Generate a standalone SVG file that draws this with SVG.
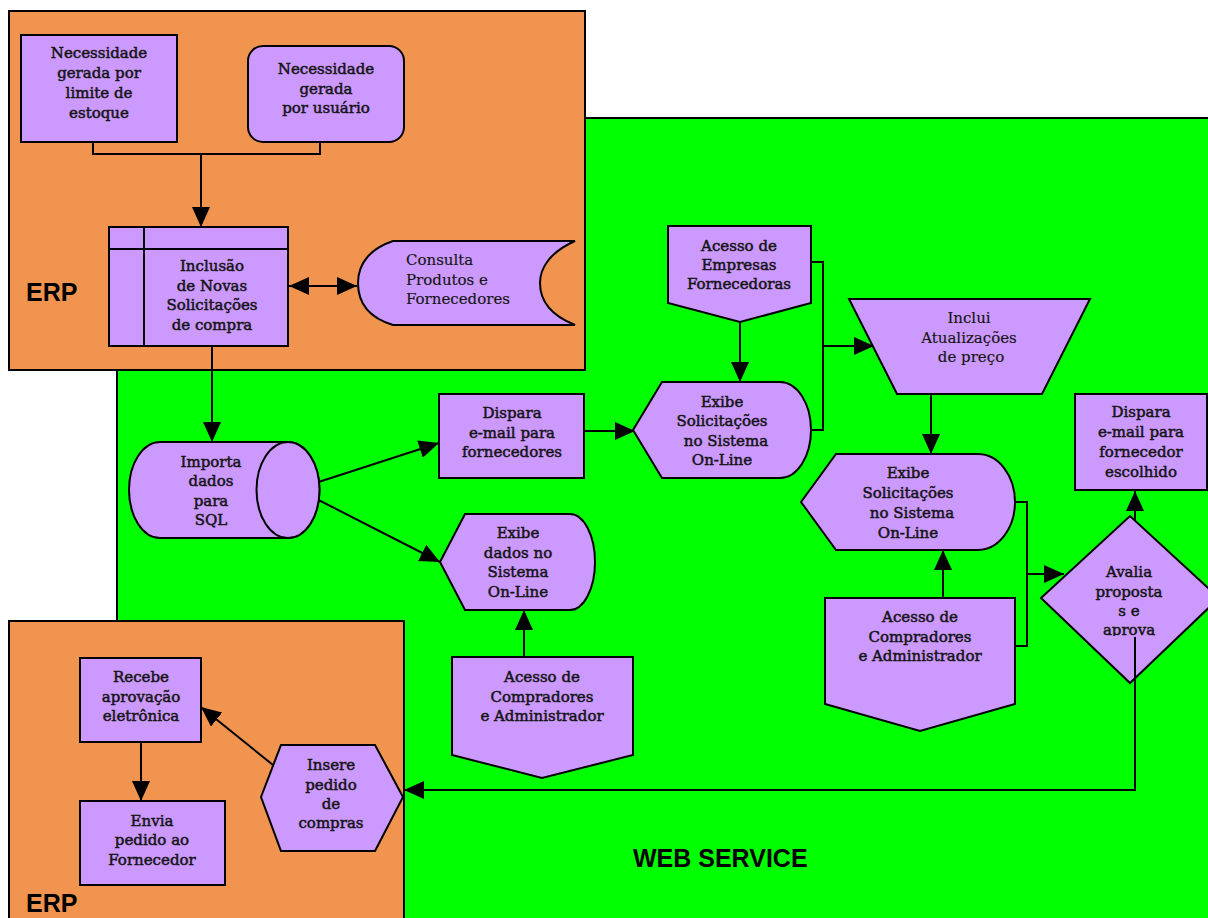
<svg xmlns="http://www.w3.org/2000/svg" width="1208" height="918" viewBox="0 0 1208 918">
  <style>
    .zone-web { fill: #00FF00; stroke: #000; stroke-width: 2; }
    .zone-erp { fill: #F0944F; stroke: #000; stroke-width: 2; }
    .node { fill: #CC99FF; stroke: #000; stroke-width: 2; }
    .t { font-family: "DejaVu Serif", "Liberation Serif", serif; font-size: 15px; text-anchor: middle; fill: #141414; stroke: #141414; stroke-width: 0.5px; }
    .tl { text-anchor: start; stroke-width: 0.15px; }
    .tr { stroke-width: 0.15px; }
    .zone-label { font-family: "Liberation Sans", Arial, sans-serif; font-size: 25px; font-weight: bold; fill: #000; }
    .conn { fill: none; stroke: #000; stroke-width: 2; }
    .arrow { marker-end: url(#head); }
  </style>
  <defs>
    <marker id="head" markerUnits="userSpaceOnUse" markerWidth="20" markerHeight="18" refX="20" refY="9" orient="auto">
      <path d="M0,0 L20,9 L0,18 Z" fill="#000"/>
    </marker>
    <marker id="head2" markerUnits="userSpaceOnUse" markerWidth="20" markerHeight="18" refX="20" refY="9" orient="auto-start-reverse">
      <path d="M0,0 L20,9 L0,18 Z" fill="#000"/>
    </marker>
    <clipPath id="avalia-clip">
      <rect x="1040" y="500" width="180" height="136"/>
    </clipPath>
  </defs>

  <!-- swimlane zones -->
  <g id="zones">
    <rect class="zone-web" x="117" y="118" width="1100" height="810"/>
    <rect class="zone-erp" x="9" y="11" width="576" height="359"/>
    <rect class="zone-erp" x="9" y="621" width="395" height="310"/>
    <text class="zone-label" x="26" y="301">ERP</text>
    <text class="zone-label" x="26" y="912">ERP</text>
    <text class="zone-label" x="633" y="867">WEB SERVICE</text>
  </g>

  <!-- connectors -->
  <g id="connectors">
    <polyline class="conn" points="93,142 93,154 320,154 320,142"/>
    <line class="conn arrow" x1="201" y1="154" x2="201" y2="227"/>
    <line class="conn" x1="289" y1="286" x2="357" y2="286" marker-start="url(#head2)" marker-end="url(#head2)"/>
    <line class="conn arrow" x1="212" y1="346" x2="212" y2="442"/>
    <line class="conn arrow" x1="297" y1="489" x2="439" y2="443"/>
    <line class="conn arrow" x1="297" y1="489" x2="440" y2="562"/>
    <line class="conn arrow" x1="524" y1="657" x2="524" y2="610"/>
    <line class="conn arrow" x1="584" y1="431" x2="635" y2="431"/>
    <line class="conn arrow" x1="740" y1="322" x2="740" y2="382"/>
    <polyline class="conn" points="811,262 823,262 823,430 811,430"/>
    <line class="conn arrow" x1="823" y1="346" x2="874" y2="346"/>
    <line class="conn arrow" x1="931" y1="394" x2="931" y2="454"/>
    <line class="conn arrow" x1="943" y1="598" x2="943" y2="550"/>
    <polyline class="conn" points="1015,502 1027,502 1027,646 1015,646"/>
    <line class="conn arrow" x1="1027" y1="574" x2="1064" y2="574"/>
    <line class="conn arrow" x1="1135" y1="521" x2="1135" y2="491"/>
    <polyline class="conn arrow" points="1135,637 1135,790 404,790"/>
    <line class="conn arrow" x1="273" y1="765" x2="201" y2="707"/>
    <line class="conn arrow" x1="141" y1="742" x2="141" y2="801"/>
  </g>

  <g id="n-limite-estoque">
    <rect class="node" x="21" y="35" width="156" height="107"/>
    <text class="t" x="99" y="58">Necessidade</text>
    <text class="t" x="99" y="78">gerada por</text>
    <text class="t" x="99" y="98">limite de</text>
    <text class="t" x="99" y="118">estoque</text>
  </g>

  <g id="n-usuario">
    <rect class="node" x="248" y="46" width="156" height="96" rx="15"/>
    <text class="t" x="326" y="74">Necessidade</text>
    <text class="t" x="326" y="94">gerada</text>
    <text class="t" x="326" y="113">por usuário</text>
  </g>

  <g id="n-inclusao">
    <rect class="node" x="109" y="227" width="179" height="119"/>
    <line class="conn" x1="144" y1="227" x2="144" y2="346"/>
    <line class="conn" x1="109" y1="249" x2="288" y2="249"/>
    <text class="t" x="212" y="271">Inclusão</text>
    <text class="t" x="212" y="291">de Novas</text>
    <text class="t" x="212" y="310">Solicitações</text>
    <text class="t" x="212" y="330">de compra</text>
  </g>

  <g id="n-consulta">
    <path class="node" d="M393,241 H575 C550,252 540,268 540,283 C540,300 550,315 575,325 H393 C370,318 358,304 358,283 C358,262 372,248 393,241 Z"/>
    <text class="t tl" x="406" y="265">Consulta</text>
    <text class="t tl" x="406" y="285">Produtos e</text>
    <text class="t tl" x="406" y="304">Fornecedores</text>
  </g>

  <g id="n-importa">
    <path class="node" d="M160,442 H288 A31.5 48 0 0 1 288,538 H160 A31 48 0 0 1 160,442 Z"/>
    <ellipse class="node" cx="288" cy="490" rx="31.5" ry="48"/>
    <text class="t" x="211" y="467">Importa</text>
    <text class="t" x="211" y="486">dados</text>
    <text class="t" x="211" y="506">para</text>
    <text class="t" x="211" y="525">SQL</text>
  </g>

  <g id="n-dispara-fornecedores">
    <rect class="node" x="439" y="394" width="145" height="84"/>
    <text class="t" x="512" y="418">Dispara</text>
    <text class="t" x="512" y="438">e-mail para</text>
    <text class="t" x="512" y="457">fornecedores</text>
  </g>

  <g id="n-exibe-dados">
    <path class="node" d="M440,562 L465,514 H570 A25 48 0 0 1 570,610 H465 Z"/>
    <text class="t" x="518" y="538">Exibe</text>
    <text class="t" x="518" y="558">dados no</text>
    <text class="t" x="518" y="577">Sistema</text>
    <text class="t" x="518" y="597">On-Line</text>
  </g>

  <g id="n-acesso-compradores-1">
    <path class="node" d="M452,657 H633 V755 L542,778 L452,755 Z"/>
    <text class="t" x="542" y="682">Acesso de</text>
    <text class="t" x="542" y="702">Compradores</text>
    <text class="t" x="542" y="721">e Administrador</text>
  </g>

  <g id="n-acesso-empresas">
    <path class="node" d="M668,226 H811 V303 L740,322 L668,303 Z"/>
    <text class="t" x="739" y="251">Acesso de</text>
    <text class="t" x="739" y="270">Empresas</text>
    <text class="t" x="739" y="289">Fornecedoras</text>
  </g>

  <g id="n-exibe-solicitacoes-1">
    <path class="node" d="M633,430 L662,382 H780 A31 48 0 0 1 780,478 H662 Z"/>
    <text class="t" x="722" y="407">Exibe</text>
    <text class="t" x="722" y="426">Solicitações</text>
    <text class="t" x="726" y="446">no Sistema</text>
    <text class="t" x="722" y="465">On-Line</text>
  </g>

  <g id="n-inclui-atualizacoes">
    <path class="node" d="M849,299 H1090 L1042,394 H897 Z"/>
    <text class="t tr" x="969" y="323">Inclui</text>
    <text class="t tr" x="969" y="343">Atualizações</text>
    <text class="t tr" x="971" y="362">de preço</text>
  </g>

  <g id="n-exibe-solicitacoes-2">
    <path class="node" d="M801,502 L836,454 H978 A37 48 0 0 1 978,550 H836 Z"/>
    <text class="t" x="908" y="478">Exibe</text>
    <text class="t" x="908" y="498">Solicitações</text>
    <text class="t" x="912" y="518">no Sistema</text>
    <text class="t" x="908" y="538">On-Line</text>
  </g>

  <g id="n-acesso-compradores-2">
    <path class="node" d="M825,598 H1015 V704 L920,731 L825,704 Z"/>
    <text class="t" x="920" y="622">Acesso de</text>
    <text class="t" x="920" y="642">Compradores</text>
    <text class="t" x="920" y="661">e Administrador</text>
  </g>

  <g id="n-dispara-escolhido">
    <rect class="node" x="1075" y="394" width="132" height="96"/>
    <text class="t" x="1141" y="417">Dispara</text>
    <text class="t" x="1141" y="437">e-mail para</text>
    <text class="t" x="1141" y="457">fornecedor</text>
    <text class="t" x="1141" y="477">escolhido</text>
  </g>

  <g id="n-avalia">
    <path class="node" d="M1041,598 L1130,516 L1219,598 L1130,683 Z"/>
    <g clip-path="url(#avalia-clip)">
      <text class="t" x="1129" y="577">Avalia</text>
      <text class="t" x="1129" y="597">proposta</text>
      <text class="t" x="1129" y="616">s e</text>
      <text class="t" x="1129" y="635">aprova</text>
    </g>
    <line class="conn" x1="1135" y1="637" x2="1135" y2="683"/>
  </g>

  <g id="n-insere">
    <path class="node" d="M261,797 L281,745 H375 L403,797 L375,851 H281 Z"/>
    <text class="t" x="331" y="770">Insere</text>
    <text class="t" x="331" y="790">pedido</text>
    <text class="t" x="331" y="809">de</text>
    <text class="t" x="331" y="828">compras</text>
  </g>

  <g id="n-recebe">
    <rect class="node" x="80" y="658" width="121" height="84"/>
    <text class="t" x="141" y="682">Recebe</text>
    <text class="t" x="141" y="702">aprovação</text>
    <text class="t" x="141" y="721">eletrônica</text>
  </g>

  <g id="n-envia">
    <rect class="node" x="80" y="801" width="145" height="84"/>
    <text class="t" x="152" y="826">Envia</text>
    <text class="t" x="152" y="845">pedido ao</text>
    <text class="t" x="152" y="865">Fornecedor</text>
  </g>
</svg>
